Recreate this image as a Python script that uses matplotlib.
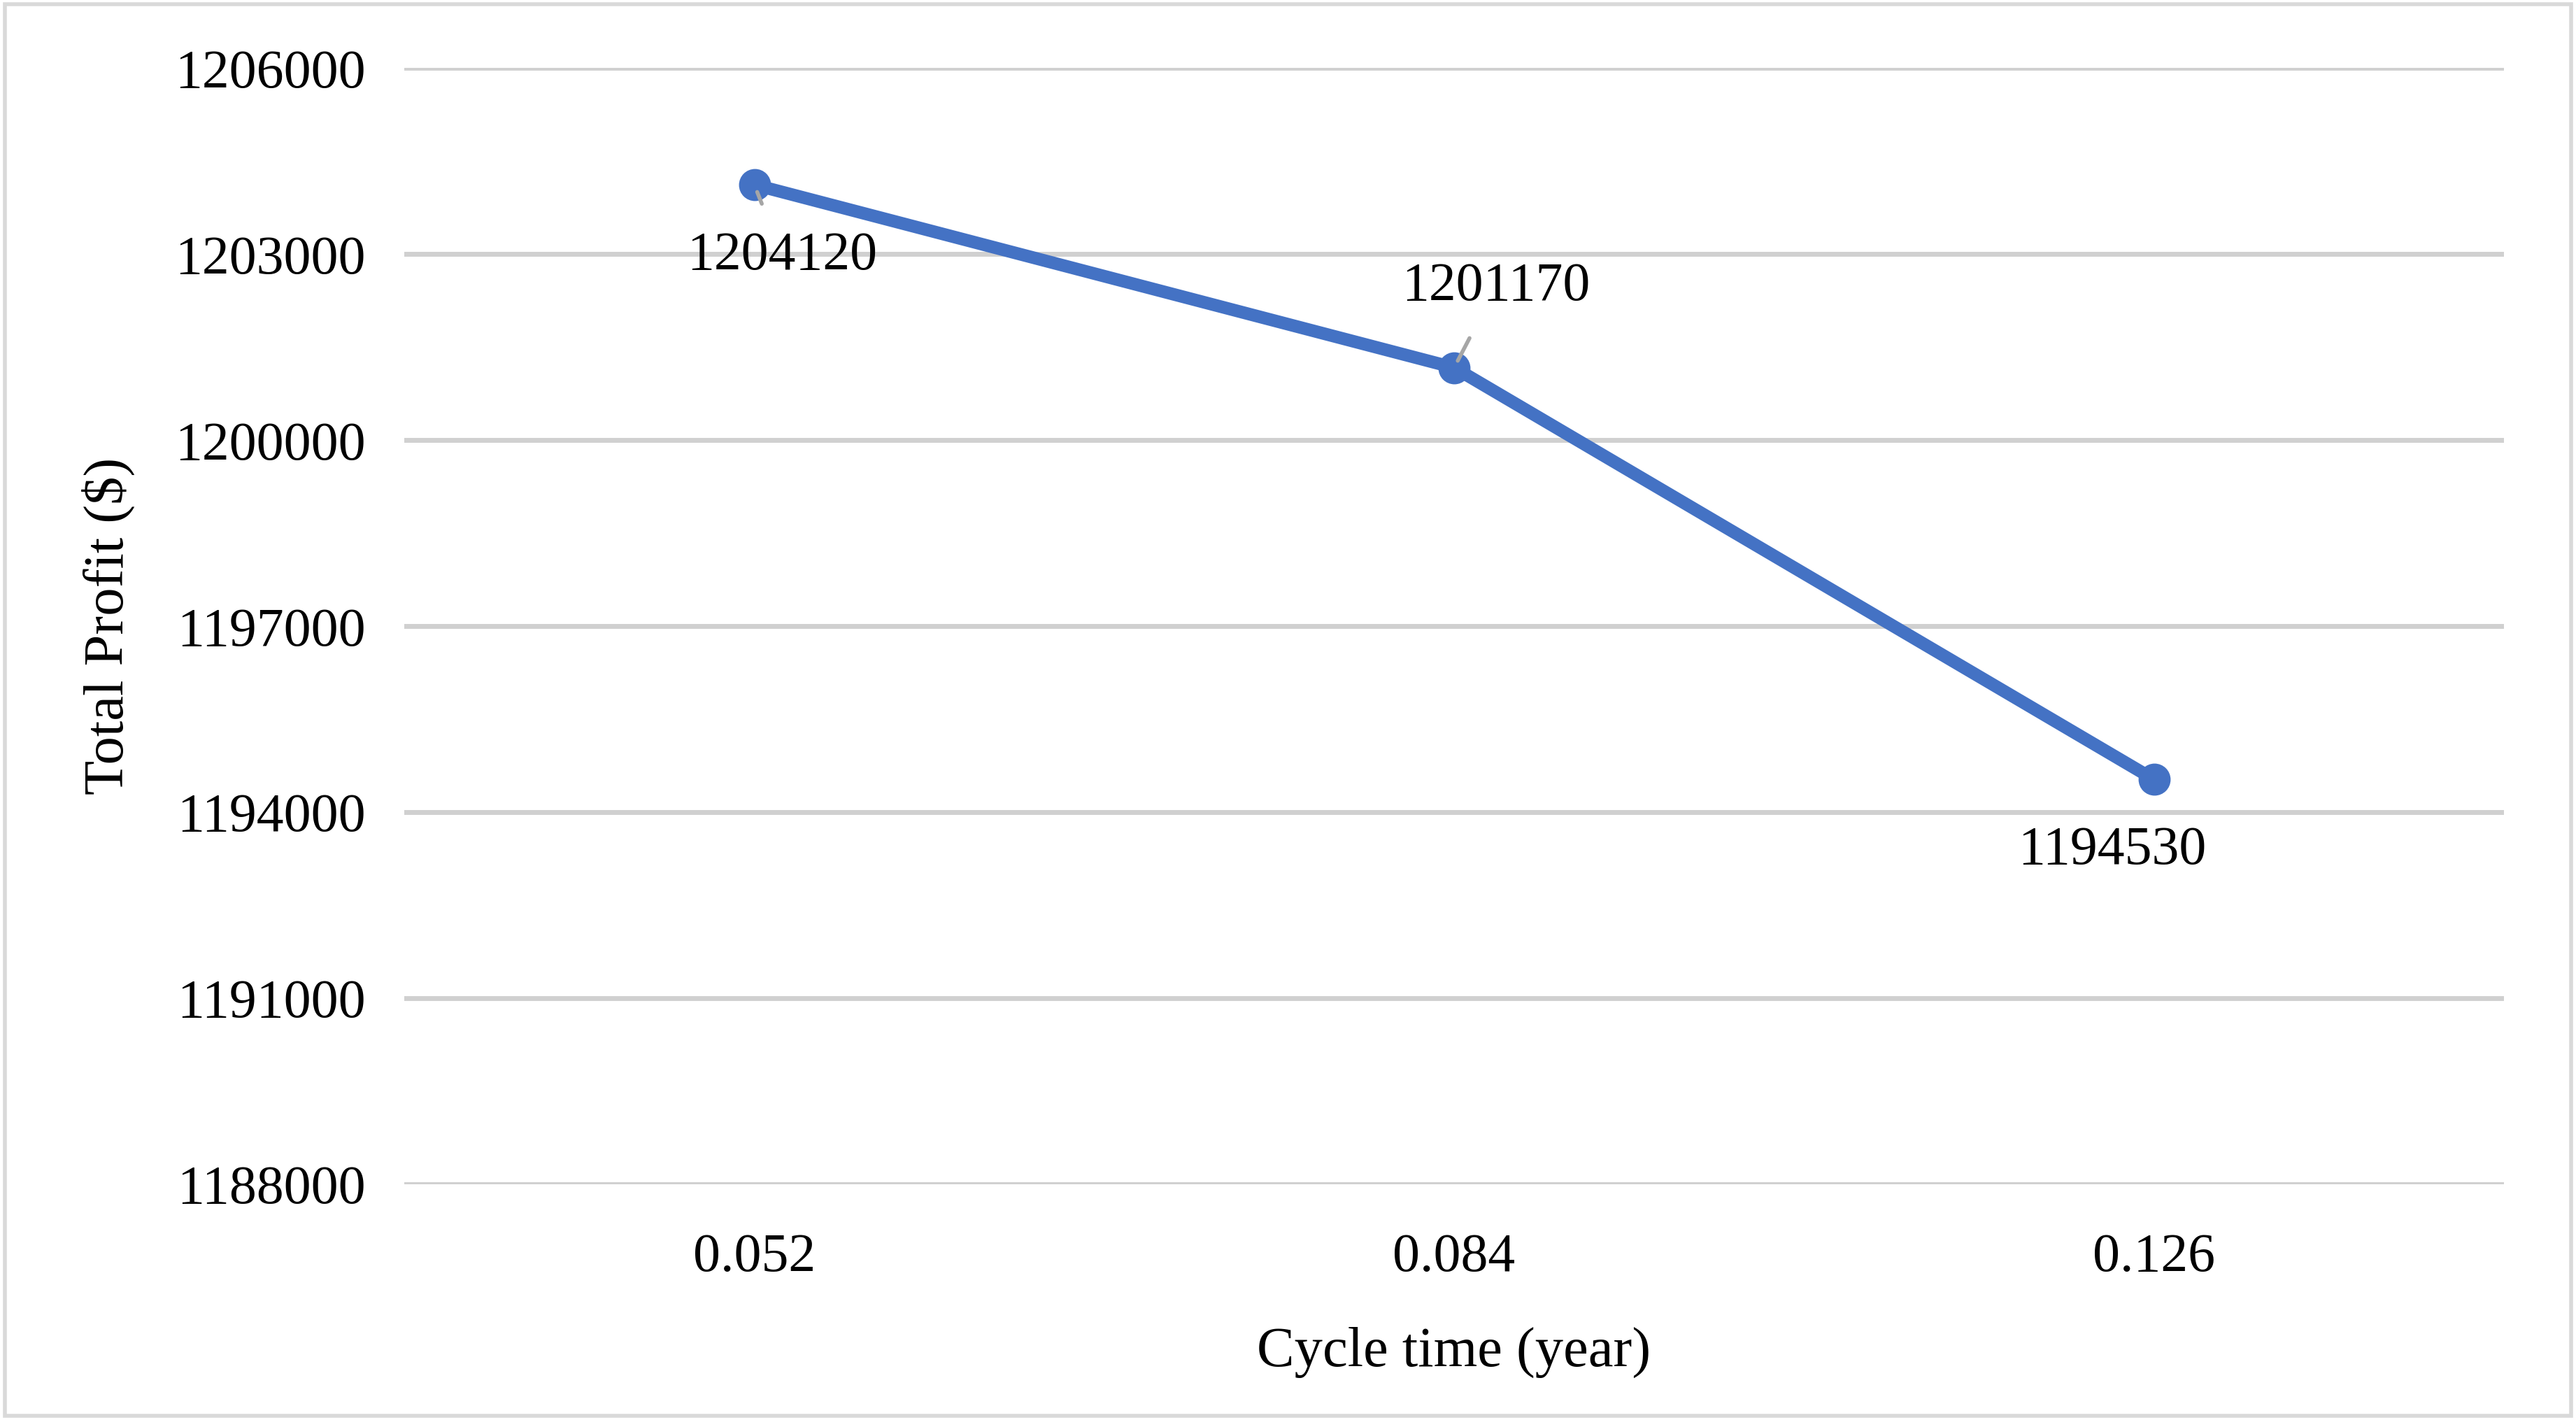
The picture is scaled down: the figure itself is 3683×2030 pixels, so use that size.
import matplotlib
matplotlib.use("Agg")
import matplotlib.pyplot as plt
from matplotlib.patches import Rectangle

categories = ["0.052", "0.084", "0.126"]
profits = [1204120, 1201170, 1194530]
yticks = [1188000, 1191000, 1194000, 1197000, 1200000, 1203000, 1206000]

plt.rcParams["font.family"] = "Liberation Serif"
fig = plt.figure(figsize=(36.83, 20.30), dpi=100)
ax = fig.add_axes([0.157, 0.166, 0.815, 0.786])
x = list(range(len(categories)))
ax.plot(x, profits, color="#4472C4", lw=13, marker="o", ms=32, zorder=3)
ax.set_xlim(-0.5, 2.5)
ax.set_ylim(1188000, 1206000)
ax.set_yticks(yticks)
ax.set_yticklabels([str(v) for v in yticks])
ax.set_xticks(x)
ax.set_xticklabels(categories)
ax.grid(axis="y", color="#D0D0D0", lw=5)
ax.set_axisbelow(True)
for s in ax.spines.values():
    s.set_visible(False)
ax.tick_params(length=0, labelsize=56, pad=40)
ax.tick_params(axis="x", pad=50)
ax.set_xlabel("Cycle time (year)", fontsize=58, labelpad=45)
ax.set_ylabel("Total Profit ($)", fontsize=58, labelpad=40)

offsets = [(0.04, -1150), (0.06, 1300), (-0.06, -1150)]
leaders = [True, True, False]
for i, (v, (dx, dy), ld) in enumerate(zip(profits, offsets, leaders)):
    ax.annotate(str(v), xy=(i, v), xytext=(i + dx, v + dy), fontsize=56,
                ha="center", va="center",
                arrowprops=dict(arrowstyle="-", color="#A6A6A6", lw=4,
                                shrinkA=28, shrinkB=8) if ld else None)

fig.patches.append(Rectangle((0.002, 0.003), 0.996, 0.994, transform=fig.transFigure,
                             fill=False, edgecolor="#D9D9D9", lw=4))
fig.savefig("out.png", dpi=100)
